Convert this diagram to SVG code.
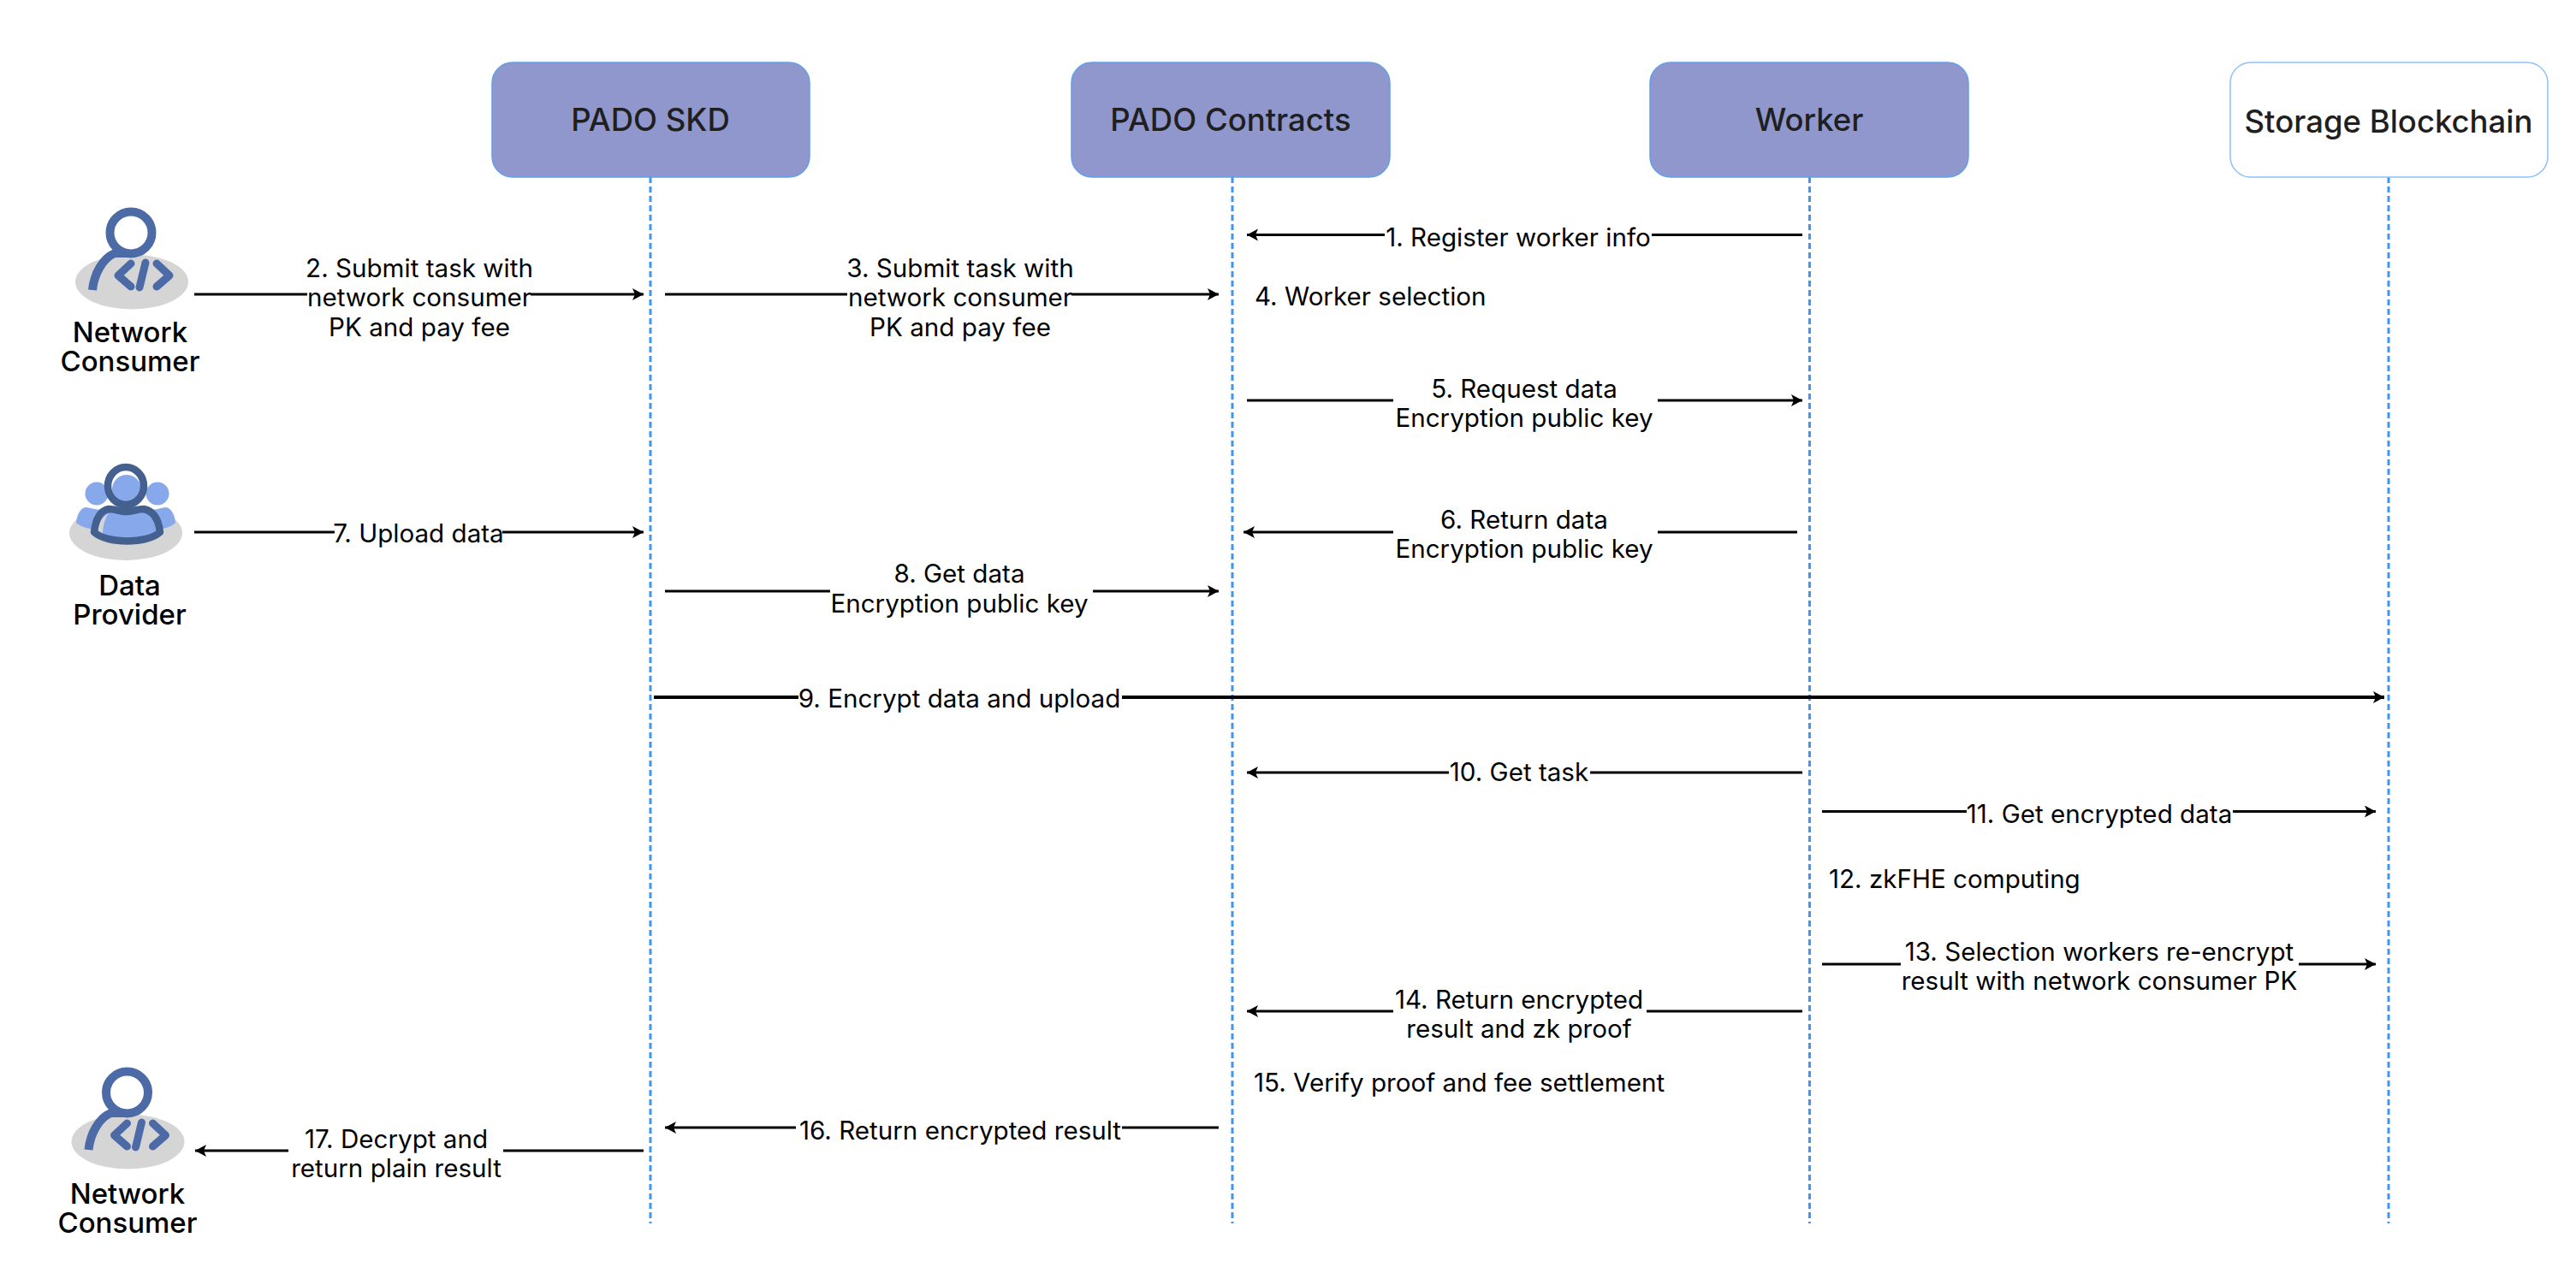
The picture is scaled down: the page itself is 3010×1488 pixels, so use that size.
<svg xmlns="http://www.w3.org/2000/svg" xmlns:xlink="http://www.w3.org/1999/xlink" width="3010" height="1488" viewBox="0 0 3010 1488">
<style>
text{font-family:"Inter","Liberation Sans",sans-serif;fill:#000}
.l{font-size:29.600px;text-anchor:middle;dominant-baseline:central}
.ls{font-size:29.600px;text-anchor:start;dominant-baseline:central}
.a{font-size:33px;font-weight:500;text-anchor:middle;dominant-baseline:central}
.b{font-size:36.500px;font-weight:500;text-anchor:middle;dominant-baseline:central;fill:#1f1f1f}
.box{fill:#8f97cc;stroke:#62a0ea;stroke-width:1.500}
.box2{fill:#fff;stroke:#8fc0f8;stroke-width:1.500}
.life{stroke:#3f96f5;stroke-width:3;stroke-dasharray:7 4;fill:none}
.c{stroke:#000;stroke-width:3;fill:none;marker-end:url(#ah)}
.bg{fill:#fff}
.g{fill:#d5d5d5}
.ic{stroke:#4c6aa5;fill:none;stroke-linecap:round;stroke-linejoin:round}
.dk{stroke:#44608f;fill:none;stroke-width:8.500;stroke-linejoin:round}
.lb{fill:#88a8ec}
</style>
<defs>
<marker id="ah" markerUnits="userSpaceOnUse" markerWidth="16" markerHeight="16" refX="13" refY="7" orient="auto"><path d="M0,0 L13,7 L0,14 L3,7 Z" fill="#000"/></marker>
<g id="consumer">
<ellipse class="g" cx="154" cy="329.500" rx="66" ry="32"/>
<path d="M108,339 C110,320 120,302 134,296 L150,296" stroke="#4c6aa5" stroke-width="10" fill="none"/>
<ellipse cx="153" cy="272" rx="24.500" ry="24.500" stroke="#4c6aa5" stroke-width="10" fill="#fff"/>
<path class="ic" stroke-width="9" d="M153,308 L138,322 L153,335 M170,307 L163,336 M183,308 L198,322 L183,335"/>
</g>
</defs>

<g id="lifelines">
<path class="life" d="M760,207V1430"/>
<path class="life" d="M1440,207V1430"/>
<path class="life" d="M2114.500,207V1430"/>
<path class="life" d="M2791,207V1430"/>
</g>

<g id="node-sdk"><rect class="box" x="575" y="73" width="371" height="134" rx="24"/><text class="b" x="760" y="140">PADO SKD</text></g>
<g id="node-contracts"><rect class="box" x="1252" y="73" width="372" height="134" rx="24"/><text class="b" x="1438" y="140">PADO Contracts</text></g>
<g id="node-worker"><rect class="box" x="1928" y="73" width="372" height="134" rx="24"/><text class="b" x="2114" y="140">Worker</text></g>
<g id="node-storage"><rect class="box2" x="2606" y="73" width="371" height="134" rx="24"/><text class="b" x="2791" y="142">Storage Blockchain</text></g>

<g id="actor-consumer-top"><use xlink:href="#consumer" href="#consumer"/><text class="a" x="152" y="388">Network</text><text class="a" x="152" y="422">Consumer</text></g>
<g id="actor-provider">
<ellipse class="g" cx="147" cy="623" rx="66" ry="32"/>
<circle class="lb" cx="113" cy="577" r="13.500"/><circle class="lb" cx="184" cy="577" r="13.500"/>
<path class="lb" d="M89,611 C90,600 95,593 101,593 L125,598 L125,620 C110,620 95,617 89,611Z"/>
<path class="lb" d="M205,611 C204,600 199,593 193,593 L170,598 L170,620 C185,620 200,617 205,611Z"/>
<path class="lb" d="M113,622 C114,606 120,596 130,594 L165,594 C180,597 187,610 188,624 C170,636 125,636 113,622Z"/>
<path class="g" d="M114,623 C115,612 119,604 127,600 C122,607 120,615 120,626Z"/>
<circle class="lb" cx="148" cy="572" r="17"/>
<ellipse cx="147" cy="568" rx="21" ry="22" class="dk"/>
<path class="dk" d="M110,622 C112,604 118,597 127,595 C135,595 140,598 147,598 C155,598 160,595 168,595 C178,597 185,605 187,622 C172,636 125,636 110,622Z"/>
<text class="a" x="151.500" y="684">Data</text><text class="a" x="151.500" y="718">Provider</text></g>
<g id="actor-consumer-bottom"><use xlink:href="#consumer" href="#consumer" x="-4.500" y="1005"/><text class="a" x="149" y="1395">Network</text><text class="a" x="149" y="1429">Consumer</text></g>

<g id="connectors">
<path class="c" d="M2106,274.500H1457"/>
<path class="c" d="M227,344H752"/>
<path class="c" d="M777,344H1424"/>
<path class="c" d="M1457,468H2106"/>
<path class="c" d="M2100,622H1453"/>
<path class="c" d="M227,622H752"/>
<path class="c" d="M777,691H1424"/>
<path class="c" style="stroke-width:4" d="M764,815H2786"/>
<path class="c" d="M2106,903H1457"/>
<path class="c" d="M2129,948.500H2776"/>
<path class="c" d="M2129,1127H2776"/>
<path class="c" d="M2106,1182H1457"/>
<path class="c" d="M1424,1318H777"/>
<path class="c" d="M752,1345H228"/>
</g>

<g id="labels">
<rect class="bg" x="1618" y="258" width="312" height="34"/><text class="l" x="1774" y="277">1. Register worker info</text>
<rect class="bg" x="359" y="295" width="261" height="104"/><text class="l" x="490" y="312.500">2. Submit task with</text><text class="l" x="490" y="347">network consumer</text><text class="l" x="490" y="382">PK and pay fee</text>
<rect class="bg" x="990" y="295" width="262" height="104"/><text class="l" x="1122" y="312.500">3. Submit task with</text><text class="l" x="1122" y="347">network consumer</text><text class="l" x="1122" y="382">PK and pay fee</text>
<text class="ls" x="1466" y="346">4. Worker selection</text>
<rect class="bg" x="1628" y="436" width="309" height="70"/><text class="l" x="1781" y="453.500">5. Request data</text><text class="l" x="1781" y="488">Encryption public key</text>
<rect class="bg" x="1628" y="590" width="309" height="70"/><text class="l" x="1781" y="607">6. Return data</text><text class="l" x="1781" y="641">Encryption public key</text>
<rect class="bg" x="391" y="605" width="196" height="34"/><text class="l" x="489" y="623">7. Upload data</text>
<rect class="bg" x="970" y="653" width="307" height="70"/><text class="l" x="1121" y="670">8. Get data</text><text class="l" x="1121" y="705">Encryption public key</text>
<rect class="bg" x="933" y="798" width="378" height="34"/><text class="l" x="1121" y="816">9. Encrypt data and upload</text>
<rect class="bg" x="1693" y="886" width="165" height="34"/><text class="l" x="1775" y="902">10. Get task</text>
<rect class="bg" x="2298" y="931" width="311" height="34"/><text class="l" x="2453" y="951">11. Get encrypted data</text>
<text class="ls" x="2137" y="1027">12. zkFHE computing</text>
<rect class="bg" x="2221" y="1095" width="465" height="70"/><text class="l" x="2453" y="1112">13. Selection workers re-encrypt</text><text class="l" x="2453" y="1146">result with network consumer PK</text>
<rect class="bg" x="1628" y="1150" width="296" height="70"/><text class="l" x="1775" y="1168">14. Return encrypted</text><text class="l" x="1775" y="1202">result and zk proof</text>
<text class="ls" x="1465" y="1265">15. Verify proof and fee settlement</text>
<rect class="bg" x="930" y="1300" width="381" height="34"/><text class="l" x="1122" y="1321">16. Return encrypted result</text>
<rect class="bg" x="337" y="1314" width="251" height="68"/><text class="l" x="463" y="1331">17. Decrypt and</text><text class="l" x="463" y="1365">return plain result</text>
</g>
</svg>
